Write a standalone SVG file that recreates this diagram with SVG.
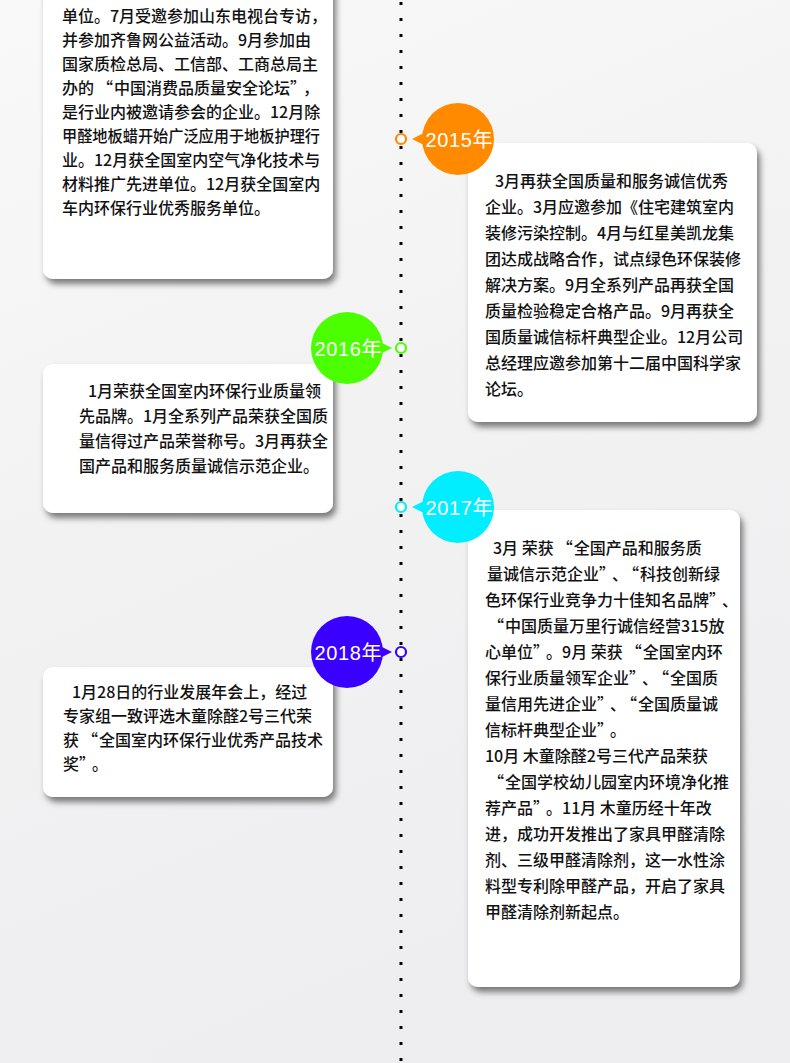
<svg xmlns="http://www.w3.org/2000/svg" width="790" height="1063" viewBox="0 0 790 1063">
<defs>
<linearGradient id="bg" x1="0" y1="0" x2="0.3" y2="1">
<stop offset="0" stop-color="#f9f9f9"/>
<stop offset="0.5" stop-color="#f2f2f3"/>
<stop offset="1" stop-color="#eeeef0"/>
</linearGradient>
<filter id="sh" x="-10%" y="-10%" width="125%" height="130%">
<feDropShadow dx="3" dy="5" stdDeviation="3" flood-color="#000" flood-opacity="0.5"/>
</filter>
</defs>
<style>
.card{fill:#fff;filter:url(#sh)}
.t{font-family:"Noto Sans CJK SC","Noto Sans CJK JP",sans-serif;font-size:16px;font-weight:500;fill:#111}
.qo{letter-spacing:1px}
.qc{letter-spacing:5px}
.yr{font-family:"Liberation Sans","Noto Sans CJK SC",sans-serif;font-size:20px;fill:#fff;text-anchor:middle}
.ring{fill:#fff;stroke-width:2.2}
.line{stroke:#000;stroke-width:3;stroke-dasharray:3 13;fill:none}
</style>
<rect x="0" y="0" width="790" height="1063" fill="url(#bg)"/>

<g id="connectors">
<line class="line" x1="401" y1="2" x2="401" y2="1063"/>
</g>

<g id="card-2014">
<rect class="card" x="43" y="-20" width="290" height="299" rx="10"/>
<g class="t">
<text x="62" y="22">单位。7月受邀参加山东电视台专访，</text>
<text x="62" y="46">并参加齐鲁网公益活动。9月参加由</text>
<text x="62" y="70">国家质检总局、工信部、工商总局主</text>
<text x="62" y="94">办的<tspan class="qo" dx="3">“</tspan>中国消费品质量安全论坛<tspan class="qc">”</tspan>，</text>
<text x="62" y="118">是行业内被邀请参会的企业。12月除</text>
<text x="62" y="142" textLength="258" lengthAdjust="spacingAndGlyphs">甲醛地板蜡开始广泛应用于地板护理行</text>
<text x="62" y="166">业。12月获全国室内空气净化技术与</text>
<text x="62" y="190">材料推广先进单位。12月获全国室内</text>
<text x="62" y="214">车内环保行业优秀服务单位。</text>
</g>
</g>

<g id="card-2015">
<rect class="card" x="468" y="143" width="289" height="279" rx="10"/>
<g class="t">
<text x="495" y="187">3月再获全国质量和服务诚信优秀</text>
<text x="485" y="213">企业。3月应邀参加《住宅建筑室内</text>
<text x="485" y="239">装修污染控制。4月与红星美凯龙集</text>
<text x="485" y="265">团达成战略合作，试点绿色环保装修</text>
<text x="485" y="291">解决方案。9月全系列产品再获全国</text>
<text x="485" y="317">质量检验稳定合格产品。9月再获全</text>
<text x="485" y="343">国质量诚信标杆典型企业。12月公司</text>
<text x="485" y="369">总经理应邀参加第十二届中国科学家</text>
<text x="485" y="395">论坛。</text>
</g>
</g>

<g id="card-2016">
<rect class="card" x="43" y="364" width="290" height="149" rx="10"/>
<g class="t">
<text x="88" y="397">1月荣获全国室内环保行业质量领</text>
<text x="79" y="422">先品牌。1月全系列产品荣获全国质</text>
<text x="79" y="447">量信得过产品荣誉称号。3月再获全</text>
<text x="79" y="472">国产品和服务质量诚信示范企业。</text>
</g>
</g>

<g id="card-2017">
<rect class="card" x="468" y="510" width="272" height="477" rx="10"/>
<g class="t">
<text x="493" y="554">3月 荣获<tspan class="qo" dx="3">“</tspan>全国产品和服务质</text>
<text x="487" y="580">量诚信示范企业<tspan class="qc">”</tspan>、<tspan class="qo" dx="3">“</tspan>科技创新绿</text>
<text x="485" y="606">色环保行业竞争力十佳知名品牌<tspan class="qc">”</tspan>、</text>
<text x="485" y="632"><tspan class="qo" dx="3">“</tspan>中国质量万里行诚信经营315放</text>
<text x="485" y="658">心单位<tspan class="qc">”</tspan>。9月 荣获<tspan class="qo" dx="3">“</tspan>全国室内环</text>
<text x="485" y="684">保行业质量领军企业<tspan class="qc">”</tspan>、<tspan class="qo" dx="3">“</tspan>全国质</text>
<text x="485" y="710">量信用先进企业<tspan class="qc">”</tspan>、<tspan class="qo" dx="3">“</tspan>全国质量诚</text>
<text x="485" y="736">信标杆典型企业<tspan class="qc">”</tspan>。</text>
<text x="485" y="762">10月 木童除醛2号三代产品荣获</text>
<text x="485" y="788"><tspan class="qo" dx="3">“</tspan>全国学校幼儿园室内环境净化推</text>
<text x="485" y="814">荐产品<tspan class="qc">”</tspan>。11月 木童历经十年改</text>
<text x="485" y="840">进，成功开发推出了家具甲醛清除</text>
<text x="485" y="866">剂、三级甲醛清除剂，这一水性涂</text>
<text x="485" y="892">料型专利除甲醛产品，开启了家具</text>
<text x="485" y="918">甲醛清除剂新起点。</text>
</g>
</g>

<g id="card-2018">
<rect class="card" x="43" y="667" width="290" height="130" rx="10"/>
<g class="t">
<text x="72" y="698">1月28日的行业发展年会上，经过</text>
<text x="63" y="722">专家组一致评选木童除醛2号三代荣</text>
<text x="63" y="746">获<tspan class="qo" dx="3">“</tspan>全国室内环保行业优秀产品技术</text>
<text x="63" y="770">奖<tspan class="qc">”</tspan>。</text>
</g>
</g>

<g id="badge-2015">
<polygon points="412,139 428,131 428,147" fill="#ff8a00"/>
<circle cx="458" cy="139" r="36" fill="#ff8a00"/>
<text class="yr" x="459" y="146.5" textLength="67">2015年</text>
<circle class="ring" cx="401" cy="139" r="5" stroke="#ff8a00"/>
</g>

<g id="badge-2016">
<polygon points="392,348 376,340 376,356" fill="#4bff00"/>
<circle cx="347" cy="348" r="36" fill="#4bff00"/>
<text class="yr" x="348" y="355.5" textLength="67">2016年</text>
<circle class="ring" cx="401" cy="348" r="5" stroke="#4bff00"/>
</g>

<g id="badge-2017">
<polygon points="412,507 428,499 428,515" fill="#00eeff"/>
<circle cx="458" cy="507" r="36" fill="#00eeff"/>
<text class="yr" x="459" y="514.5" textLength="67">2017年</text>
<circle class="ring" cx="401" cy="507" r="5" stroke="#00eeff"/>
</g>

<g id="badge-2018">
<polygon points="392,652 376,644 376,660" fill="#3a00ff"/>
<circle cx="347" cy="652" r="36" fill="#3a00ff"/>
<text class="yr" x="348" y="659.5" textLength="67">2018年</text>
<circle class="ring" cx="401" cy="652" r="5" stroke="#3a00ff"/>
</g>
</svg>
